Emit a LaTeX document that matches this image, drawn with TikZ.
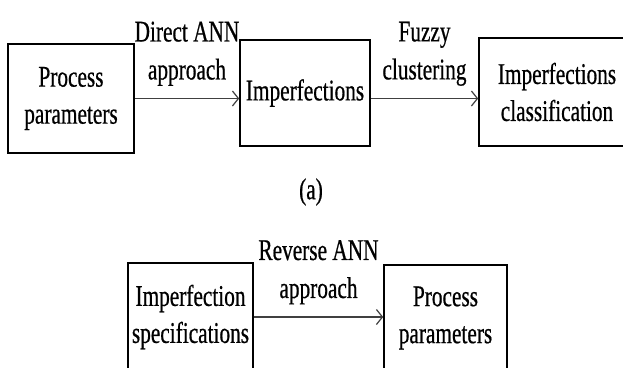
\documentclass[tikz,border=0pt]{standalone}
\usepackage{fontspec}
\setmainfont{Liberation Serif}[FakeStretch=0.71, FakeBold=0.6]
\usetikzlibrary{arrows.meta}

\begin{document}
\begin{tikzpicture}[x=1pt, y=-1pt,
    box/.style={rectangle, draw, line width=1.6pt, align=center, inner sep=0pt, font=\fontsize{30}{37}\selectfont},
    lbl/.style={align=center, inner sep=2pt, text=black, font=\fontsize{30}{38}\selectfont},
    arr/.style={-{Straight Barb[length=6pt, width=15pt, line width=1.2pt]}, line width=1.3pt, color=black!75}
]
\useasboundingbox (0,0) rectangle (623,367);
% (a) direct model
\node[box, minimum width=126pt, minimum height=109pt] (pp) at (71,98.5) {Process\\parameters};
\node[box, minimum width=130pt, minimum height=106pt] (imp) at (305,93) {Imperfections};
\node[box, minimum width=156pt, minimum height=108pt] (cls) at (557,92) {Imperfections\\classification};
\draw[arr] (pp.east) -- (imp.west |- pp.east) node[lbl, midway, above=10pt] (dir) {Direct ANN\\approach};
\draw[arr] (imp.east |- pp.east) -- (cls.west |- pp.east) node[lbl, midway, above=10pt] (fuz) {Fuzzy\\clustering};
\node[lbl] (capa) at (311,192) {(a)};
% (b) reverse model
\node[box, minimum width=125pt, minimum height=108pt] (spec) at (190.5,317) {Imperfection\\specifications};
\node[box, minimum width=123pt, minimum height=106pt] (pp2) at (445.5,318) {Process\\parameters};
\draw[arr] (spec.east) -- (pp2.west |- spec.east) node[lbl, midway, above=10pt] (rev) {Reverse ANN\\approach};
\end{tikzpicture}
\end{document}
